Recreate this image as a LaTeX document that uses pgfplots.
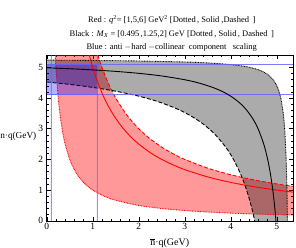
\documentclass[border=0pt]{standalone}
\usepackage{fontspec}
\setmainfont{Liberation Serif}
\usepackage{pgfplots}
\pgfplotsset{compat=1.18}
\usepgfplotslibrary{fillbetween}
\usetikzlibrary{calc}
\definecolor{blueline}{RGB}{100,100,255}
\begin{document}
\begin{tikzpicture}
\begin{axis}[
  scale only axis, width=246bp, height=165.7bp,
  xmin=0, xmax=5.35, ymin=0, ymax=5.4,
  xtick={0,1,2,3,4,5}, ytick={0,1,2,3,4,5},
  minor x tick num=4, minor y tick num=4,
  xtick pos=both, ytick pos=both,
  tick align=inside,
  major tick length=4bp, minor tick length=2bp,
  tick style={black, line width=0.4pt},
  axis line style={line width=0.5pt},
  tick label style={font=\fontsize{9.5}{9.5}\selectfont},
  /pgf/number format/assume math mode=true,
  xticklabel style={yshift=1bp},
  clip=true,
]
% red band
\addplot[name path=R1, red, line width=0.9pt, dash pattern=on 0.8pt off 0.8pt, smooth] coordinates {
(0.1852,5.4) (0.2,5) (0.25,4) (0.3,3.3333) (0.35,2.8571) (0.4,2.5) (0.5,2) (0.6,1.6667) (0.7,1.4286) (0.8,1.25) (0.9,1.1111) (1,1) (1.25,0.8) (1.5,0.6667) (2,0.5) (2.5,0.4) (3,0.3333) (3.5,0.2857) (4,0.25) (4.5,0.2222) (5,0.2) (5.35,0.1869)};
\addplot[name path=R6, red, line width=0.9pt, dash pattern=on 4pt off 2pt, smooth] coordinates {
(1.1111,5.4) (1.2,5) (1.35,4.4444) (1.5,4) (1.75,3.4286) (2,3) (2.25,2.6667) (2.5,2.4) (2.75,2.1818) (3,2) (3.5,1.7143) (4,1.5) (4.5,1.3333) (5,1.2) (5.35,1.1215)};
\addplot[fill=red, fill opacity=0.4, draw=none] fill between[of=R1 and R6];
% black band
\addplot[name path=B1, black, line width=0.9pt, dash pattern=on 0.8pt off 0.8pt, smooth] coordinates {
(0,5.2336) (1,5.2228) (2,5.2053) (3,5.1725) (3.5,5.1423) (4,5.0886) (4.3,5.0300) (4.4,5.0016) (4.5,4.9659) (4.6,4.9197) (4.7,4.8575) (4.75,4.8177) (4.785,4.785) (4.8177,4.75) (4.8575,4.7) (4.9197,4.6) (4.9659,4.5) (5.0016,4.4) (5.03,4.3) (5.0886,4) (5.1423,3.5) (5.1725,3) (5.2053,2) (5.2228,1) (5.2336,0)};
\addplot[name path=B2, black, line width=0.9pt, dash pattern=on 4pt off 2pt, smooth] coordinates {
(0,4.5224) (0.5,4.4432) (1,4.3454) (1.5,4.2218) (2,4.0605) (2.4,3.8911) (2.8,3.6671) (3.05,3.4863) (3.18,3.3752) (3.28,3.28) (3.3752,3.18) (3.4863,3.05) (3.6671,2.8) (3.8911,2.4) (4.0605,2) (4.2218,1.5) (4.3454,1) (4.4432,0.5) (4.5224,0)};
\addplot[fill=black, fill opacity=0.33, draw=none] fill between[of=B1 and B2];
% blue rectangle
\addplot[fill=blue, fill opacity=0.3, draw=none] coordinates {(0,4.1) (1.1,4.1) (1.1,5.1) (0,5.1)} \closedcycle;
\addplot[fill=blueline, fill opacity=0.7, draw=none] coordinates {(0.088,0) (0.112,0) (0.112,5.4) (0.088,5.4)} \closedcycle;
\addplot[fill=blueline, fill opacity=0.7, draw=none] coordinates {(1.088,0) (1.112,0) (1.112,5.4) (1.088,5.4)} \closedcycle;
\addplot[draw=blueline, draw opacity=0.85, line width=1.1pt] coordinates {(0,4.1) (5.35,4.1)};
\addplot[draw=blueline, draw opacity=0.85, line width=1.1pt] coordinates {(0,5.1) (5.35,5.1)};
% solid curves
\addplot[red, line width=0.9pt, smooth] coordinates {
(0.9259,5.4) (1,5) (1.1,4.5455) (1.25,4) (1.4,3.5714) (1.6,3.125) (1.8,2.7778) (2,2.5) (2.25,2.2222) (2.5,2) (2.75,1.8182) (3,1.6667) (3.5,1.4286) (4,1.25) (4.5,1.1111) (5,1) (5.35,0.9346)};
\addplot[black, line width=0.9pt, smooth] coordinates {
(0,4.9841) (0.5,4.9531) (1,4.9149) (1.5,4.8666) (2,4.8036) (2.5,4.7180) (3,4.5947) (3.3,4.4909) (3.6,4.3499) (3.8,4.2243) (3.93,4.1226) (4.03,4.03) (4.1226,3.93) (4.2243,3.8) (4.3499,3.6) (4.4909,3.3) (4.5947,3) (4.7180,2.5) (4.8036,2) (4.8666,1.5) (4.9149,1) (4.9531,0.5) (4.9841,0)};
\coordinate (SW) at (rel axis cs:0,0);
\coordinate (NE) at (rel axis cs:1,1);
\coordinate (W) at (rel axis cs:0,0.5);
\coordinate (S) at (rel axis cs:0.5,0);
\coordinate (N) at (rel axis cs:0.5,1);
\end{axis}
\node[anchor=east, font=\fontsize{9.3}{9.3}\selectfont, inner sep=0pt] at ([xshift=-10.2bp,yshift=2bp]W) {n·q(GeV)};
\node[anchor=base, font=\fontsize{10}{10}\selectfont, inner sep=0pt] at ([yshift=-24.5bp]S) {$\overline{\hbox{n}}$·q(GeV)};
\node[anchor=south, align=center, font=\fontsize{8.5}{14}\selectfont, inner sep=0pt] at ([xshift=2bp,yshift=3bp]N) {Red : \textit{q}\textsuperscript{2}= [1,5,6] GeV\textsuperscript{2} [Dotted\,, Solid ,Dashed\, ]\\ Black : \textit{M}\textsubscript{\textit{X}} = [0.495\,,1.25,2] GeV [Dotted\,, Solid\,, Dashed\, ]\\ Blue : anti $-$hard $-$collinear\ \ component\ \ \ scaling};
\pgfresetboundingbox
\path ([xshift=-46.7bp,yshift=-26.3bp]SW) rectangle ([xshift=3.2bp,yshift=55bp]NE);
\end{tikzpicture}
\end{document}
